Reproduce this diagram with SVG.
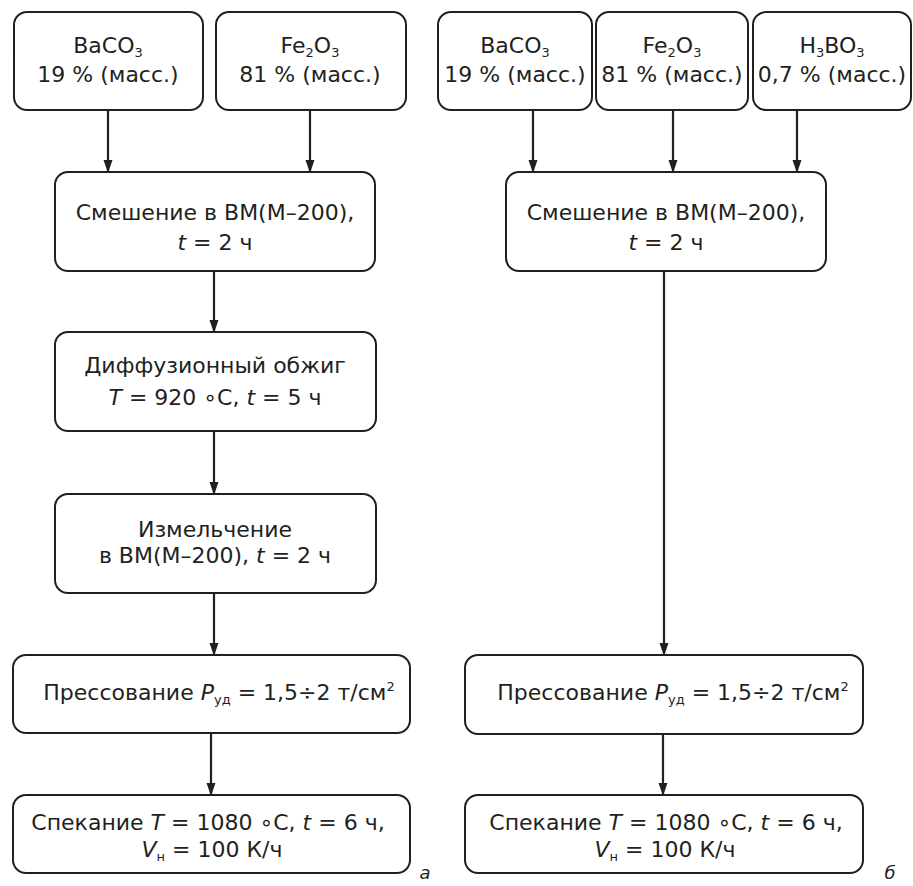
<svg xmlns="http://www.w3.org/2000/svg" width="913" height="886" viewBox="0 0 913 886">
<defs>
<marker id="arr" markerWidth="13" markerHeight="10" refX="12" refY="5" orient="auto" markerUnits="userSpaceOnUse" viewBox="0 0 13 10">
<path d="M0,0.5 L13,5 L0,9.5 Z" fill="#231f20"/>
</marker>
</defs>
<style>
rect.box{fill:#fff;stroke:#231f20;stroke-width:2}
text{font-family:"DejaVu Sans","Liberation Sans",Arial,sans-serif;font-size:22px;fill:#231f20;text-anchor:middle}
.it{font-style:italic}
.sub{font-size:13px}
.lab{font-style:italic;font-size:18px}
#connectors line{stroke:#231f20;stroke-width:2.2;fill:none}
</style>
<rect width="913" height="886" fill="#fff"/>

<!-- Left (a) -->
<g id="a_baco3">
<rect class="box" x="14" y="12" width="189" height="98" rx="13"/>
<text x="108" y="53">BaCO<tspan class="sub" dy="4">3</tspan></text>
<text x="108" y="82">19 % (масс.)</text>
</g>
<g id="a_fe2o3">
<rect class="box" x="216" y="12" width="190" height="98" rx="13"/>
<text x="310" y="53">Fe<tspan class="sub" dy="4">2</tspan><tspan dy="-4">O</tspan><tspan class="sub" dy="4">3</tspan></text>
<text x="310" y="82">81 % (масс.)</text>
</g>
<g id="a_mix">
<rect class="box" x="55" y="172" width="320" height="99" rx="13"/>
<text x="215" y="220">Смешение в ВМ(М–200),</text>
<text x="215" y="250"><tspan class="it">t</tspan> = 2 ч</text>
</g>
<g id="a_diff">
<rect class="box" x="55" y="332" width="321" height="99" rx="13"/>
<text x="215" y="373">Диффузионный обжиг</text>
<text x="215" y="405"><tspan class="it">T</tspan> = 920 ∘C, <tspan class="it">t</tspan> = 5 ч</text>
</g>
<g id="a_mill">
<rect class="box" x="55" y="494" width="321" height="99" rx="13"/>
<text x="215" y="537">Измельчение</text>
<text x="215" y="563">в ВМ(М–200), <tspan class="it">t</tspan> = 2 ч</text>
</g>
<g id="a_press">
<rect class="box" x="13" y="655" width="397" height="78" rx="13"/>
<text x="219" y="700">Прессование <tspan class="it">P</tspan><tspan class="sub" dy="4">уд</tspan><tspan dy="-4"> = 1,5÷2 т/см</tspan><tspan class="sub" dy="-9">2</tspan></text>
</g>
<g id="a_sinter">
<rect class="box" x="13" y="795" width="397" height="78" rx="13"/>
<text x="208" y="830">Спекание <tspan class="it">T</tspan> = 1080 ∘C, <tspan class="it">t</tspan> = 6 ч,</text>
<text x="212" y="857"><tspan class="it">V</tspan><tspan class="sub" dy="4">н</tspan><tspan dy="-4"> = 100 К/ч</tspan></text>
</g>
<text class="lab" x="425" y="879">а</text>

<!-- Right (б) -->
<g id="b_baco3">
<rect class="box" x="438" y="12" width="154" height="98" rx="13"/>
<text x="515" y="53">BaCO<tspan class="sub" dy="4">3</tspan></text>
<text x="515" y="82">19 % (масс.)</text>
</g>
<g id="b_fe2o3">
<rect class="box" x="596" y="12" width="152" height="98" rx="13"/>
<text x="672" y="53">Fe<tspan class="sub" dy="4">2</tspan><tspan dy="-4">O</tspan><tspan class="sub" dy="4">3</tspan></text>
<text x="672" y="82">81 % (масс.)</text>
</g>
<g id="b_h3bo3">
<rect class="box" x="753" y="12" width="158" height="98" rx="13"/>
<text x="832" y="53">H<tspan class="sub" dy="4">3</tspan><tspan dy="-4">BO</tspan><tspan class="sub" dy="4">3</tspan></text>
<text x="832" y="82">0,7 % (масс.)</text>
</g>
<g id="b_mix">
<rect class="box" x="506" y="172" width="320" height="99" rx="13"/>
<text x="666" y="220">Смешение в ВМ(М–200),</text>
<text x="666" y="250"><tspan class="it">t</tspan> = 2 ч</text>
</g>
<g id="b_press">
<rect class="box" x="465" y="655" width="398" height="79" rx="13"/>
<text x="673" y="700">Прессование <tspan class="it">P</tspan><tspan class="sub" dy="4">уд</tspan><tspan dy="-4"> = 1,5÷2 т/см</tspan><tspan class="sub" dy="-9">2</tspan></text>
</g>
<g id="b_sinter">
<rect class="box" x="465" y="795" width="398" height="78" rx="13"/>
<text x="666" y="830">Спекание <tspan class="it">T</tspan> = 1080 ∘C, <tspan class="it">t</tspan> = 6 ч,</text>
<text x="665" y="857"><tspan class="it">V</tspan><tspan class="sub" dy="4">н</tspan><tspan dy="-4"> = 100 К/ч</tspan></text>
</g>
<text class="lab" x="890" y="879">б</text>

<g id="connectors">
<line x1="108" y1="110" x2="108" y2="172" marker-end="url(#arr)"/>
<line x1="310" y1="110" x2="310" y2="172" marker-end="url(#arr)"/>
<line x1="214" y1="271" x2="214" y2="332" marker-end="url(#arr)"/>
<line x1="214" y1="431" x2="214" y2="494" marker-end="url(#arr)"/>
<line x1="214" y1="593" x2="214" y2="655" marker-end="url(#arr)"/>
<line x1="211" y1="733" x2="211" y2="795" marker-end="url(#arr)"/>
<line x1="533" y1="110" x2="533" y2="172" marker-end="url(#arr)"/>
<line x1="673" y1="110" x2="673" y2="172" marker-end="url(#arr)"/>
<line x1="797" y1="110" x2="797" y2="172" marker-end="url(#arr)"/>
<line x1="664" y1="271" x2="664" y2="655" marker-end="url(#arr)"/>
<line x1="663" y1="734" x2="663" y2="795" marker-end="url(#arr)"/>
</g>
</svg>
